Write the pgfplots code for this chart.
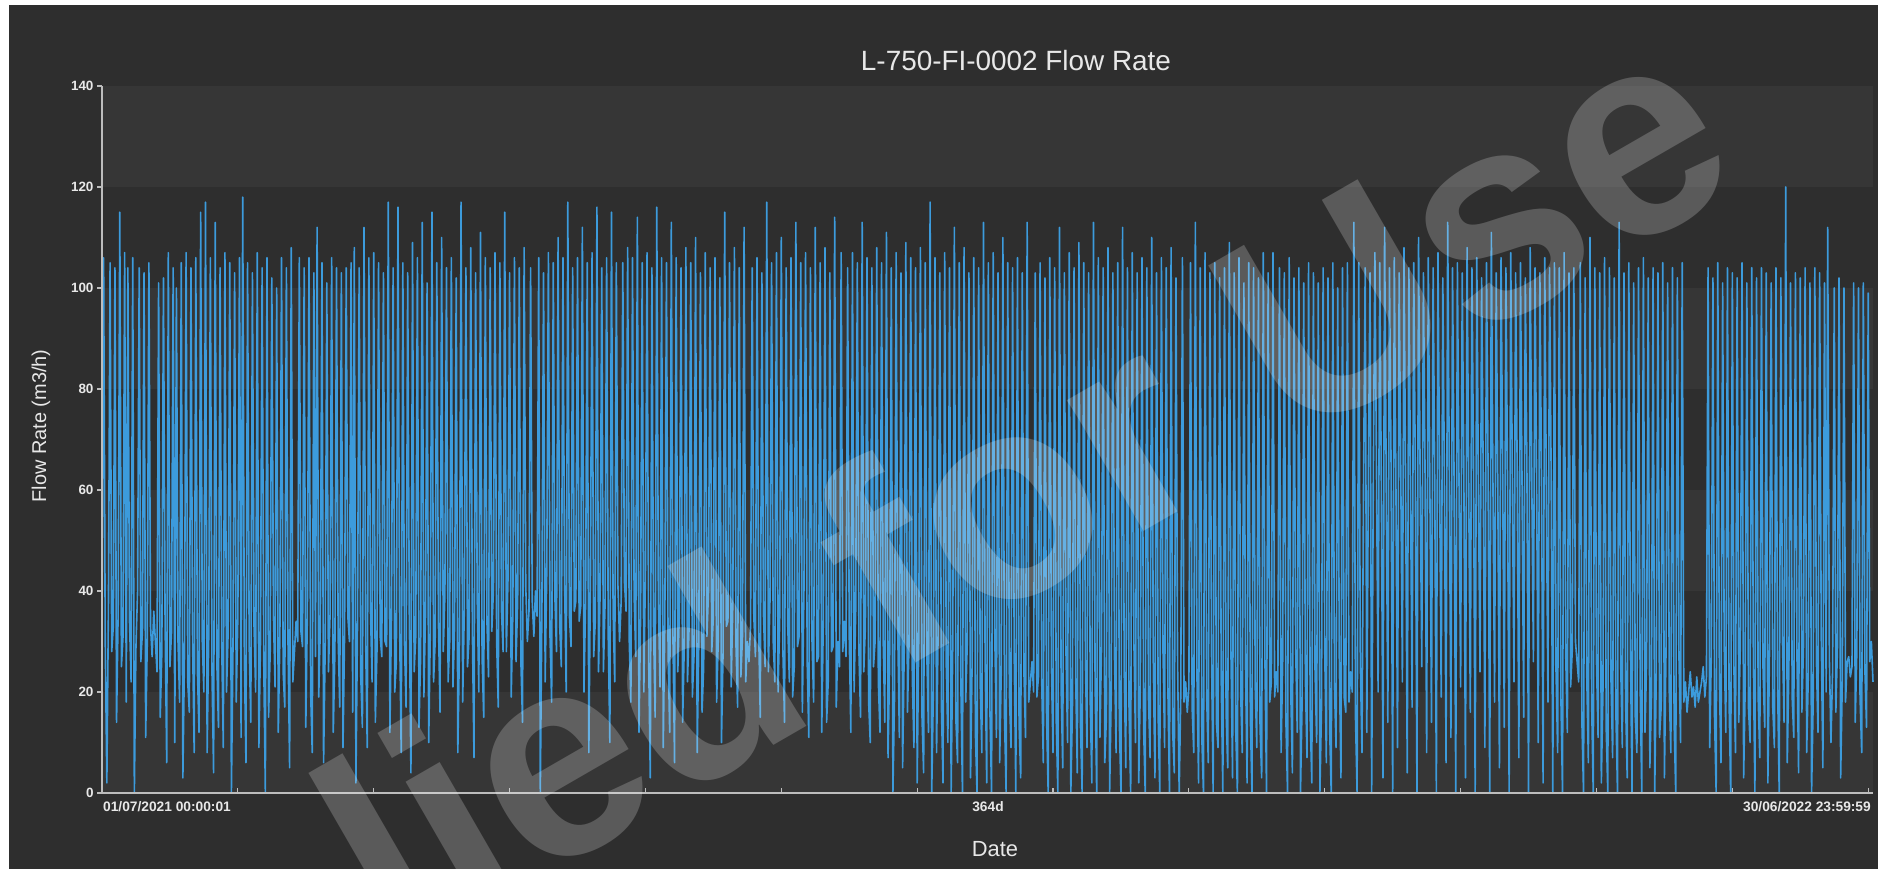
\documentclass[border=0pt]{standalone}
\usepackage{pgfplots}
\pgfplotsset{compat=1.18}
\usepackage{pgfplotstable}
\usepackage{fontspec}
\setmainfont{Liberation Sans}

\definecolor{pagebg}{HTML}{2E2E2E}
\definecolor{bandbg}{HTML}{363636}
\definecolor{axisgrey}{HTML}{BDBDBD}
\definecolor{flowblue}{HTML}{3C9BDC}
\definecolor{labeltext}{HTML}{E8E8E8}

% Flow rate samples, three per day from 01/07/2021 to 30/06/2022 (m3/h)
\pgfplotstableread{
flow
35
106
30
2
38
105
28
33
104
14
36
115
25
31
107
18
104
34
22
106
0
29
40
104
26
32
103
11
30
105
33
27
36
30
24
101
15
28
102
34
6
107
25
32
104
10
100
30
18
105
3
27
107
22
16
104
30
8
106
24
12
115
30
20
117
8
31
106
24
4
113
26
13
104
30
9
107
20
32
105
0
29
103
18
35
106
11
118
27
6
105
29
14
103
33
20
107
9
30
104
26
0
106
15
28
102
35
21
100
12
31
106
24
17
104
30
5
108
22
28
34
30
106
32
29
104
13
36
106
20
8
103
27
112
19
33
105
6
29
101
24
35
106
12
28
104
31
17
103
9
32
104
35
30
105
16
108
2
34
104
23
13
112
30
9
106
36
22
107
14
28
105
31
27
103
30
29
117
12
35
104
20
26
116
33
8
105
30
17
103
35
4
109
24
31
106
13
27
113
19
35
101
10
32
115
22
30
105
34
16
110
28
39
104
22
30
106
21
33
102
8
29
117
18
36
104
25
31
108
32
7
103
38
20
111
27
15
106
34
23
104
32
40
107
30
17
105
36
28
115
28
42
103
19
35
106
26
38
104
26
14
108
41
30
36
104
38
31
40
35
106
0
37
103
22
44
107
31
18
105
39
28
110
33
25
106
42
20
117
35
29
104
36
38
106
34
37
112
20
38
105
8
43
107
27
34
116
24
40
104
24
37
106
31
10
115
36
22
105
41
30
38
105
42
36
108
30
18
106
39
27
114
12
35
105
20
44
107
26
3
104
33
15
116
38
21
106
9
34
105
28
12
113
31
6
106
24
36
104
14
29
108
22
33
105
19
27
110
8
30
103
16
25
107
31
40
104
28
35
106
18
30
102
10
28
115
33
34
105
21
37
108
29
17
104
23
31
112
22
30
26
33
104
35
27
106
32
15
103
35
25
117
24
38
105
30
22
107
20
34
110
28
14
104
33
22
106
19
25
113
29
31
105
16
40
107
26
11
104
30
18
112
26
27
105
12
35
108
14
22
103
28
29
114
17
30
25
107
28
34
27
104
31
12
107
20
36
105
28
15
113
24
33
106
18
10
104
25
30
108
22
12
105
30
14
111
7
26
104
0
19
107
32
11
103
5
28
109
16
30
106
23
9
104
2
31
108
15
4
105
27
12
117
0
20
106
8
33
103
17
2
107
25
10
104
0
29
112
14
6
105
22
0
108
18
30
103
3
26
106
12
0
104
21
8
113
27
2
105
16
0
107
31
11
103
6
24
110
15
0
105
20
9
104
27
0
106
14
3
103
24
11
113
18
22
26
20
103
19
23
105
22
6
102
15
0
106
25
8
104
14
0
112
21
5
103
28
10
107
0
17
104
23
4
109
13
0
105
26
9
103
18
2
113
22
0
106
11
29
104
6
15
108
0
20
103
27
8
105
14
0
112
24
5
104
17
0
107
30
10
103
2
22
106
13
0
104
19
7
110
25
3
103
15
0
106
28
9
104
21
0
108
12
4
102
26
0
20
106
18
22
16
21
105
17
8
113
23
2
104
11
0
107
19
6
103
27
0
105
14
9
102
22
0
104
16
5
109
28
3
103
12
0
106
20
8
101
25
2
105
15
0
104
21
9
102
13
3
107
27
0
103
18
22
107
19
24
20
104
8
26
103
14
0
106
20
4
102
29
12
104
0
18
101
23
7
105
15
2
103
24
10
101
0
17
104
28
6
102
13
0
105
21
9
100
26
3
104
19
16
105
18
24
20
113
15
0
105
26
8
62
104
12
64
103
0
61
107
63
20
105
60
3
112
62
14
104
65
0
106
61
9
103
63
22
108
60
4
104
62
17
105
63
0
110
61
25
103
64
8
106
60
14
104
62
0
107
63
19
102
61
6
113
64
11
104
60
0
105
62
21
103
63
3
108
61
16
104
64
0
106
60
24
102
62
9
105
63
0
111
61
18
103
60
5
106
64
13
104
62
0
107
61
22
103
63
7
105
60
15
102
64
0
108
62
26
104
61
10
103
63
2
106
60
18
104
62
0
105
24
8
104
19
0
107
27
12
103
21
28
104
30
26
22
105
14
0
102
23
6
110
18
0
104
26
11
103
2
20
106
13
0
104
22
7
102
16
0
113
25
9
103
18
3
105
28
0
101
15
8
104
21
0
106
12
26
102
5
19
104
0
24
103
11
17
105
3
28
101
20
8
104
14
0
102
27
10
105
18
22
16
20
24
19
21
17
23
18
20
22
25
19
23
104
9
27
102
15
0
105
22
6
101
29
12
104
18
0
103
25
8
102
14
30
105
3
21
101
17
10
104
26
0
102
19
7
104
24
13
103
2
28
101
17
9
104
22
0
102
30
14
120
6
25
101
19
11
103
27
4
102
16
29
104
8
23
101
0
18
104
26
12
103
31
5
101
20
112
27
10
24
100
16
29
102
3
22
100
18
26
27
23
25
101
14
28
100
19
8
101
24
13
99
26
30
22
}\flowdata

\begin{document}
\begin{tikzpicture}[x=1bp,y=1bp]
\useasboundingbox (0,0) rectangle (1885,869);
\fill[white] (0,0) rectangle (1885,869);
\fill[pagebg] (9,0) rectangle (1878,864);

\begin{axis}[
  at={(102bp,76bp)}, anchor=south west,
  width=1771bp, height=707bp, scale only axis,
  xmin=0, xmax=365, ymin=0, ymax=140,
  axis x line*=bottom, axis y line*=left,
  axis line style={draw=axisgrey, line width=1.5bp},
  axis on top,
  xtick=\empty,
  extra x ticks={28,56,...,364}, extra x tick labels={},
  extra x tick style={tick align=inside},
  ytick={0,20,...,140},
  tick align=outside,
  major tick length=5bp,
  tick style={draw=axisgrey, line width=1.2bp},
  /pgf/number format/assume math mode=true,
  yticklabel style={font=\bfseries\fontsize{13.5}{16}\selectfont, text=labeltext},
  clip=false,
]
  % alternating horizontal bands
  \fill[bandbg] (axis cs:0,120) rectangle (axis cs:365,140);
  \fill[bandbg] (axis cs:0,80) rectangle (axis cs:365,100);
  \fill[bandbg] (axis cs:0,40) rectangle (axis cs:365,60);
  \fill[bandbg] (axis cs:0,0) rectangle (axis cs:365,20);
  \addplot[flowblue, line width=1.6bp, line join=round]
    table[x expr=\coordindex/3, y=flow] {\flowdata};
\end{axis}

% titles and date labels
\node[anchor=base, font=\fontsize{28}{32}\selectfont, text=labeltext] at (1016,798) {L-750-FI-0002 Flow Rate};
\node[anchor=center, rotate=90, font=\fontsize{20}{24}\selectfont, text=labeltext] at (41,443) {Flow Rate (m3/h)};
\node[anchor=base, font=\fontsize{22}{26}\selectfont, text=labeltext] at (995,12) {Date};
\node[anchor=base west, inner sep=0pt, font=\bfseries\fontsize{13.8}{16}\selectfont, text=labeltext] at (103,57) {01/07/2021 00:00:01};
\node[anchor=base, inner sep=0pt, font=\bfseries\fontsize{13.8}{16}\selectfont, text=labeltext] at (988,57) {364d};
\node[anchor=base east, inner sep=0pt, font=\bfseries\fontsize{13.8}{16}\selectfont, text=labeltext] at (1871,57) {30/06/2022 23:59:59};

% watermark
\node[anchor=base, rotate=30, inner sep=0pt, text=white, opacity=0.21,
      font=\bfseries\fontsize{288}{316}\selectfont] at (1072,296) {lied for Use};
\end{tikzpicture}
\end{document}
